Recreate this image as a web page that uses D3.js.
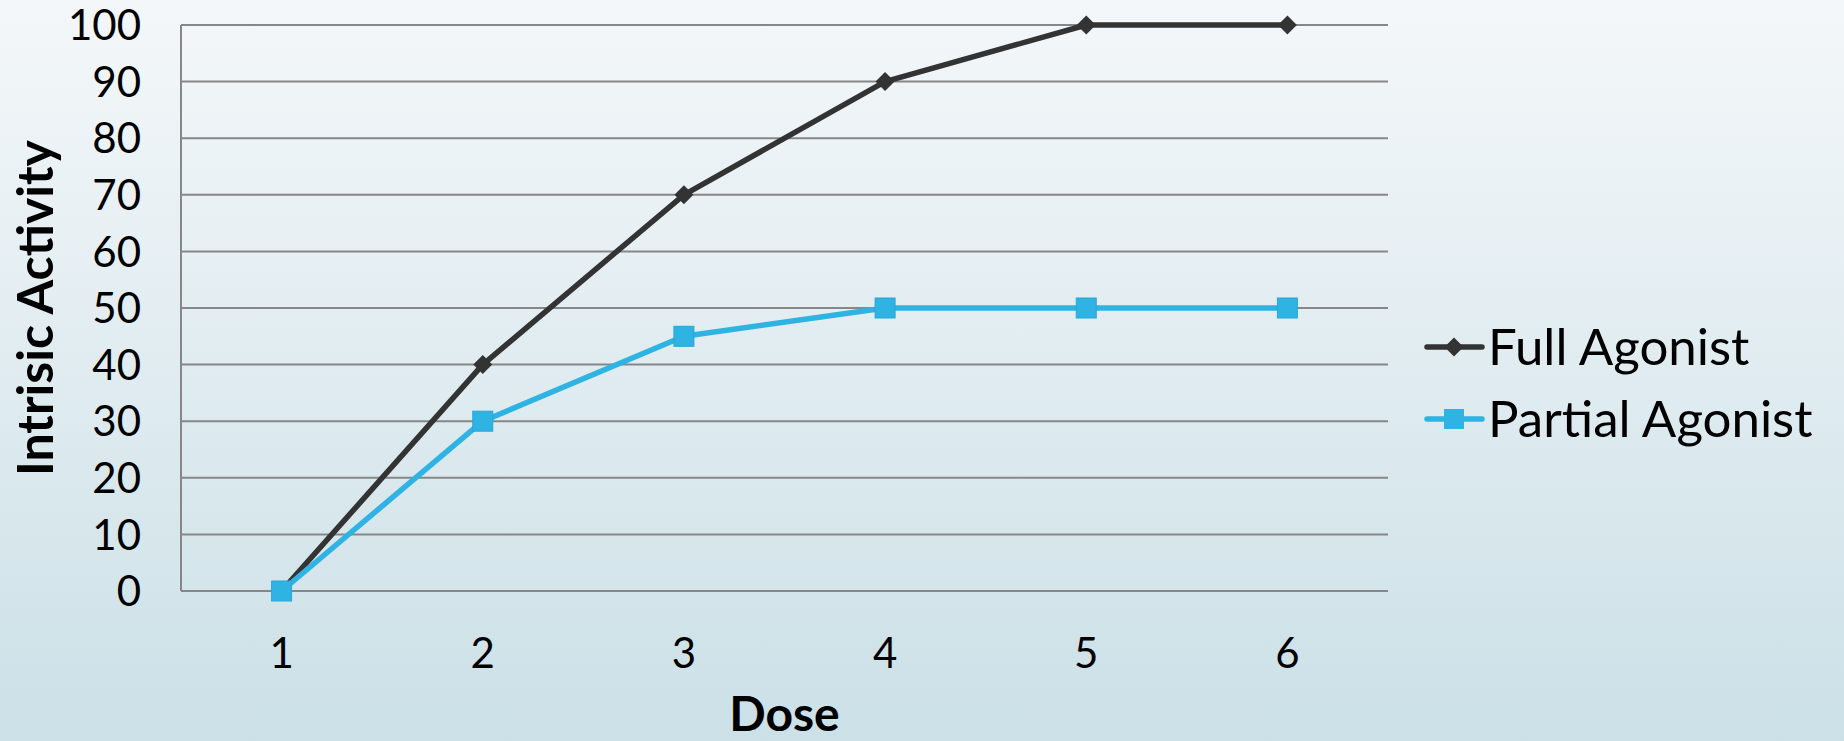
<!DOCTYPE html>
<html><head><meta charset="utf-8">
<script src="https://cdn.jsdelivr.net/npm/d3@7"></script>
<style>
html,body{margin:0;padding:0;}
body{width:1844px;height:741px;overflow:hidden;background:linear-gradient(to bottom,#f4f7f9 0%,#e2edf1 45%,#cbe0e7 100%);}
svg{display:block;}
text{font-family:"Lato","Open Sans",sans-serif;fill:#000;}
</style></head><body>
<svg id="chart" width="1844" height="741"></svg>
<script>
const doses = ["1","2","3","4","5","6"];
const fullAgonist = [0,40,70,90,100,100];
const partialAgonist = [0,30,45,50,50,50];
const yTicks = [0,10,20,30,40,50,60,70,80,90,100];
const seriesNames = ["Full Agonist","Partial Agonist"];
const colors = ["#333333","#2fb3e3"];

(function(){
const svg = d3.select("#chart");
const pLeft=181, pRight=1388, pTop=25, pBottom=591;
const x = d3.scaleBand().domain(doses).range([pLeft,pRight]).padding(0);
const y = d3.scaleLinear().domain([0,100]).range([pBottom,pTop]);

// gridlines
svg.append("g").selectAll("line").data(yTicks).join("line")
  .attr("x1",pLeft).attr("x2",pRight)
  .attr("y1",d=>y(d)).attr("y2",d=>y(d))
  .attr("stroke","#878787").attr("stroke-width",2);
// left axis line
svg.append("line").attr("x1",pLeft).attr("x2",pLeft).attr("y1",pTop).attr("y2",pBottom)
  .attr("stroke","#878787").attr("stroke-width",2);

// y tick labels
const yAxis = d3.axisLeft(y).tickValues(yTicks).tickSize(0).tickPadding(40);
const ga = svg.append("g").attr("transform",`translate(${pLeft},0)`).call(yAxis);
ga.select(".domain").remove();
ga.selectAll("text").style("font-size","42px").style("font-family","Lato, sans-serif").attr("fill","#000").attr("dy","0.35em");

// x tick labels
const xAxis = d3.axisBottom(x).tickSize(0).tickPadding(47);
const gx = svg.append("g").attr("transform",`translate(0,${pBottom})`).call(xAxis);
gx.select(".domain").remove();
gx.selectAll("text").style("font-size","42px").style("font-family","Lato, sans-serif").attr("fill","#000");

const cx = d=>x(d)+x.bandwidth()/2;
const line = d3.line().x((d,i)=>cx(doses[i])).y(d=>y(d));

// Full agonist
svg.append("path").datum(fullAgonist).attr("d",line).attr("fill","none")
  .attr("stroke",colors[0]).attr("stroke-width",5.5).attr("stroke-linejoin","round");
svg.append("g").selectAll("path").data(fullAgonist).join("path")
  .attr("d",d3.symbol().type(d3.symbolSquare).size(180))
  .attr("transform",(d,i)=>`translate(${cx(doses[i])},${y(d)}) rotate(45)`)
  .attr("fill",colors[0]);

// Partial agonist
svg.append("path").datum(partialAgonist).attr("d",line).attr("fill","none")
  .attr("stroke",colors[1]).attr("stroke-width",5.5).attr("stroke-linejoin","round");
svg.append("g").selectAll("rect").data(partialAgonist).join("rect")
  .attr("x",(d,i)=>cx(doses[i])-10).attr("y",d=>y(d)-10)
  .attr("width",20).attr("height",20)
  .attr("fill",colors[1]).attr("stroke","#29a7d6").attr("stroke-width",1);

// Legend
const leg = svg.append("g");
const legY = [347,419];
seriesNames.forEach((name,i)=>{
  leg.append("line").attr("x1",1427).attr("x2",1482).attr("y1",legY[i]).attr("y2",legY[i])
    .attr("stroke",colors[i]).attr("stroke-width",5.5).attr("stroke-linecap","round");
  if(i===0){
    leg.append("path").attr("d",d3.symbol().type(d3.symbolSquare).size(180))
      .attr("transform",`translate(1454,${legY[i]}) rotate(45)`).attr("fill",colors[0]);
  } else {
    leg.append("rect").attr("x",1444).attr("y",legY[i]-10).attr("width",20).attr("height",20)
      .attr("fill",colors[1]);
  }
  leg.append("text").attr("x",1488).attr("y",legY[i]).attr("dy","0.36em")
    .style("font-size","51px").text(name);
});

// Axis titles
svg.append("text").attr("transform",`translate(53,${(pTop+pBottom)/2}) rotate(-90)`)
  .attr("text-anchor","middle").style("font-size","50px").style("font-weight","bold")
  .text("Intrisic Activity");
svg.append("text").attr("x",(pLeft+pRight)/2).attr("y",731).attr("text-anchor","middle")
  .style("font-size","48px").style("font-weight","bold").text("Dose");
})();
</script>
</body></html>
